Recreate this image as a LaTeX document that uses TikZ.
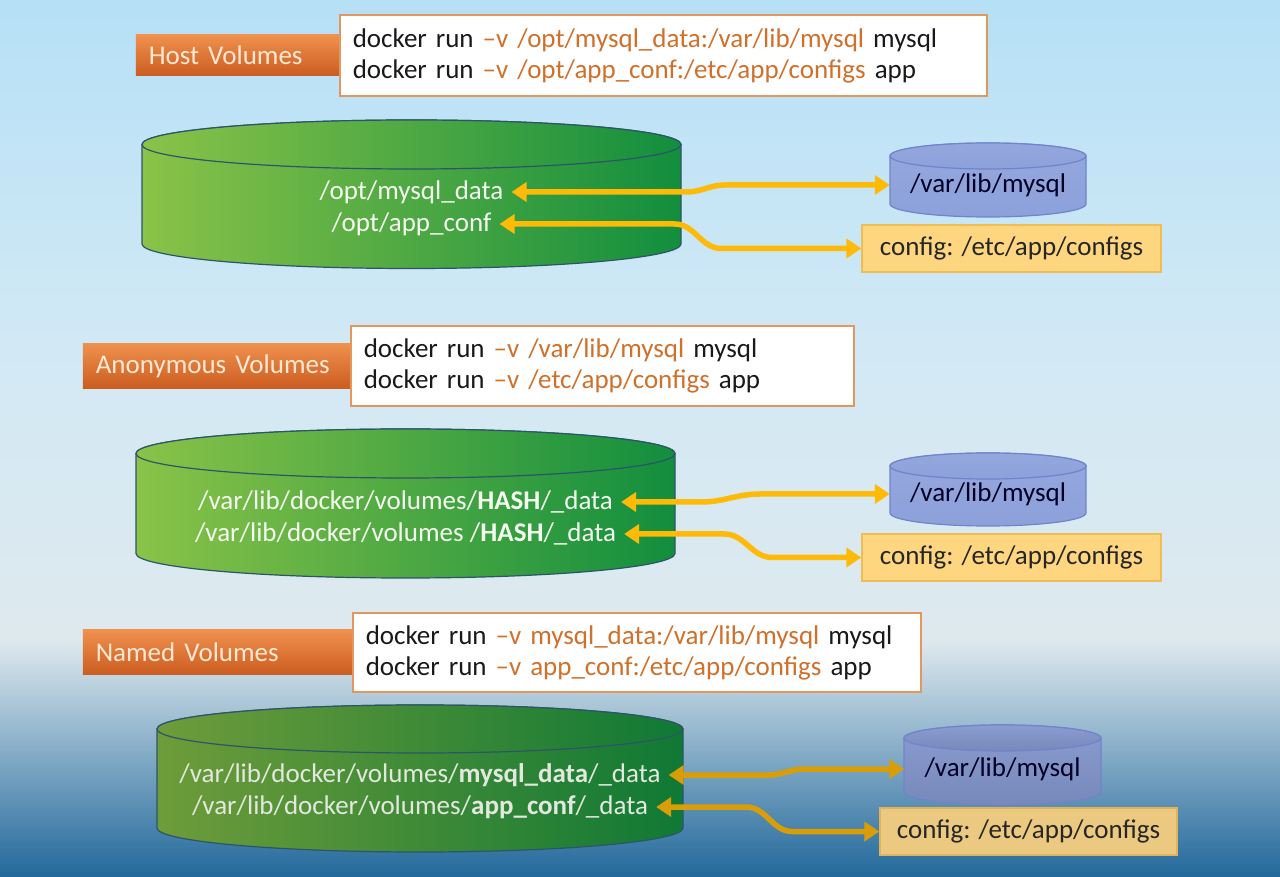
\documentclass[tikz,border=0pt]{standalone}
\usepackage{fontspec}
\setmainfont{Carlito}
\usetikzlibrary{arrows.meta, positioning}
\definecolor{skytop}{RGB}{182,224,246}
\definecolor{skymid}{RGB}{210,233,245}
\definecolor{skylow}{RGB}{222,233,238}
\definecolor{seabottom}{RGB}{35,105,155}
\definecolor{titletop}{RGB}{240,145,78}
\definecolor{titlebot}{RGB}{203,92,32}
\definecolor{titletext}{RGB}{255,232,212}
\definecolor{cmdline}{RGB}{228,150,95}
\definecolor{cmdopt}{RGB}{208,112,42}
\definecolor{drumleft}{RGB}{138,195,72}
\definecolor{drumright}{RGB}{18,142,62}
\definecolor{drumedge}{RGB}{45,85,105}
\definecolor{drumtext}{RGB}{245,250,240}
\definecolor{minifill}{RGB}{140,160,218}
\definecolor{miniedge}{RGB}{112,132,205}
\definecolor{conffill}{RGB}{255,214,128}
\definecolor{confedge}{RGB}{242,188,85}
\definecolor{linkcol}{RGB}{255,186,8}
\tikzstyle{voltitle} = [top color=titletop, bottom color=titlebot, text=titletext, minimum height=45pt, align=left, inner xsep=13pt]
\tikzstyle{cmdbox} = [draw=cmdline, fill=white, line width=1.5pt, anchor=west, align=left, inner xsep=13pt, text=black!90]
\tikzstyle{bigdrum} = [left color=drumleft, right color=drumright, draw=drumedge, line width=1.2pt]
\tikzstyle{minidrum} = [top color=minifill!92!white, bottom color=minifill, draw=miniedge, line width=1.2pt]
\tikzstyle{drumlabel} = [text=drumtext, inner xsep=8pt]
\tikzstyle{minilabel} = [minimum width=196pt, inner sep=0pt, text=black!85!blue]
\tikzstyle{confbox} = [fill=conffill, draw=confedge, line width=1.2pt, minimum width=299pt, minimum height=47pt, text=black!85]
\tikzstyle{link} = [draw=linkcol, line width=5.5pt, <->, >={Triangle[length=15pt,width=19pt]}]
% style, centre x, top y, bottom y, x radius, y radius
\newcommand{\drum}[6]{%
  \path[#1] (#2-#5,#3) -- (#2-#5,#4) arc[start angle=180,end angle=360,x radius=#5,y radius=#6]
    -- (#2+#5,#3) arc[start angle=0,end angle=180,x radius=#5,y radius=#6] -- cycle;
  \path[#1] (#2,#3) ellipse[x radius=#5,y radius=#6];
}
\begin{document}
\begin{tikzpicture}[x=1pt, y=1pt, font=\fontsize{27}{31}\selectfont]
	\useasboundingbox (0,0) rectangle (1280,876);
	% sky
	\fill[top color=skytop, bottom color=skymid] (0,526) rectangle (1280,876);
	\fill[top color=skymid, bottom color=skylow] (0,236) rectangle (1280,526);
	\fill[top color=skylow, bottom color=seabottom] (0,0) rectangle (1280,236);

	% host volumes
	\node [cmdbox, text width=621pt, minimum height=81pt] (hostcmd) at (339,820.5) {docker run \textcolor{cmdopt}{–v /opt/mysql\_data:/var/lib/mysql} mysql\\docker run \textcolor{cmdopt}{–v /opt/app\_conf:/etc/app/configs} app};
	\node [voltitle, text width=177pt, minimum height=41pt, left=0pt of hostcmd] (hosttitle) {Host Volumes};
	\drum{bigdrum}{411.5}{731.5}{632}{269.5}{24.5}
	\drum{minidrum}{988}{720}{672}{98}{13}
	\node [drumlabel] (hostdata) at (411.5,684) {/opt/mysql\_data};
	\node [drumlabel] (hostconf) at (411.5,652) {/opt/app\_conf};
	\node [minilabel] (hostmysql) at (988,691) {/var/lib/mysql};
	\node [confbox] (hostcfg) at (1011.5,627.5) {config: /etc/app/configs};
	\draw[link] (hostdata.east) -- ++(175,0) to[out=0,in=180] ([xshift=-165]hostmysql.west) -- (hostmysql.west);
	\draw[link] (hostconf.east) -- ++(175,0) to[out=0,in=180] ([xshift=-140]hostcfg.west) -- (hostcfg.west);

	% anonymous volumes
	\node [cmdbox, text width=477pt, minimum height=80pt] (anoncmd) at (350,510) {docker run \textcolor{cmdopt}{–v /var/lib/mysql} mysql\\docker run \textcolor{cmdopt}{–v /etc/app/configs} app};
	\node [voltitle, text width=241pt, left=0pt of anoncmd] (anontitle) {Anonymous Volumes};
	\drum{bigdrum}{405.5}{422.5}{322.5}{269.5}{24.5}
	\drum{minidrum}{988}{410}{363}{98}{13}
	\node [drumlabel] (anondata) at (405.5,374) {/var/lib/docker/volumes/\textbf{HASH}/\_data};
	\node [drumlabel] (anonconf) at (405.5,342) {/var/lib/docker/volumes /\textbf{HASH}/\_data};
	\node [minilabel] (anonmysql) at (988,382) {/var/lib/mysql};
	\node [confbox] (anoncfg) at (1011.5,318.5) {config: /etc/app/configs};
	\draw[link] (anondata.east) -- ++(80,0) to[out=0,in=180] ([xshift=-130]anonmysql.west) -- (anonmysql.west);
	\draw[link] (anonconf.east) -- ++(100,0) to[out=0,in=180] ([xshift=-89]anoncfg.west) -- (anoncfg.west);

	% named volumes
	\node [cmdbox, text width=542pt, minimum height=79pt] (namedcmd) at (352,223.5) {docker run \textcolor{cmdopt}{–v mysql\_data:/var/lib/mysql} mysql\\docker run \textcolor{cmdopt}{–v app\_conf:/etc/app/configs} app};
	\node [voltitle, text width=243pt, left=0pt of namedcmd] (namedtitle) {Named Volumes};
	\drum{bigdrum, left color=drumleft!80!black, right color=drumright!85!black}{420}{147}{48}{263}{24}
	\drum{minidrum, top color=minifill!90!gray, bottom color=minifill!85!black}{1002.5}{138}{84}{98.5}{13}
	\node [drumlabel, text=drumtext!85!gray] (nameddata) at (420,101) {/var/lib/docker/volumes/\textbf{mysql\_data}/\_data};
	\node [drumlabel, text=drumtext!85!gray] (namedconf) at (420,69) {/var/lib/docker/volumes/\textbf{app\_conf}/\_data};
	\node [minilabel] (namedmysql) at (1002.5,107) {/var/lib/mysql};
	\node [confbox, fill=conffill!85!gray, draw=confedge!85!gray, minimum width=297pt] (namedcfg) at (1028.5,44.5) {config: /etc/app/configs};
	\draw[link, draw=linkcol!85!black] (nameddata.east) -- ++(100,0) to[out=0,in=180] ([xshift=-100]namedmysql.west) -- (namedmysql.west);
	\draw[link, draw=linkcol!85!black] (namedconf.east) -- ++(90,0) to[out=0,in=180] ([xshift=-87]namedcfg.west) -- (namedcfg.west);
\end{tikzpicture}
\end{document}
